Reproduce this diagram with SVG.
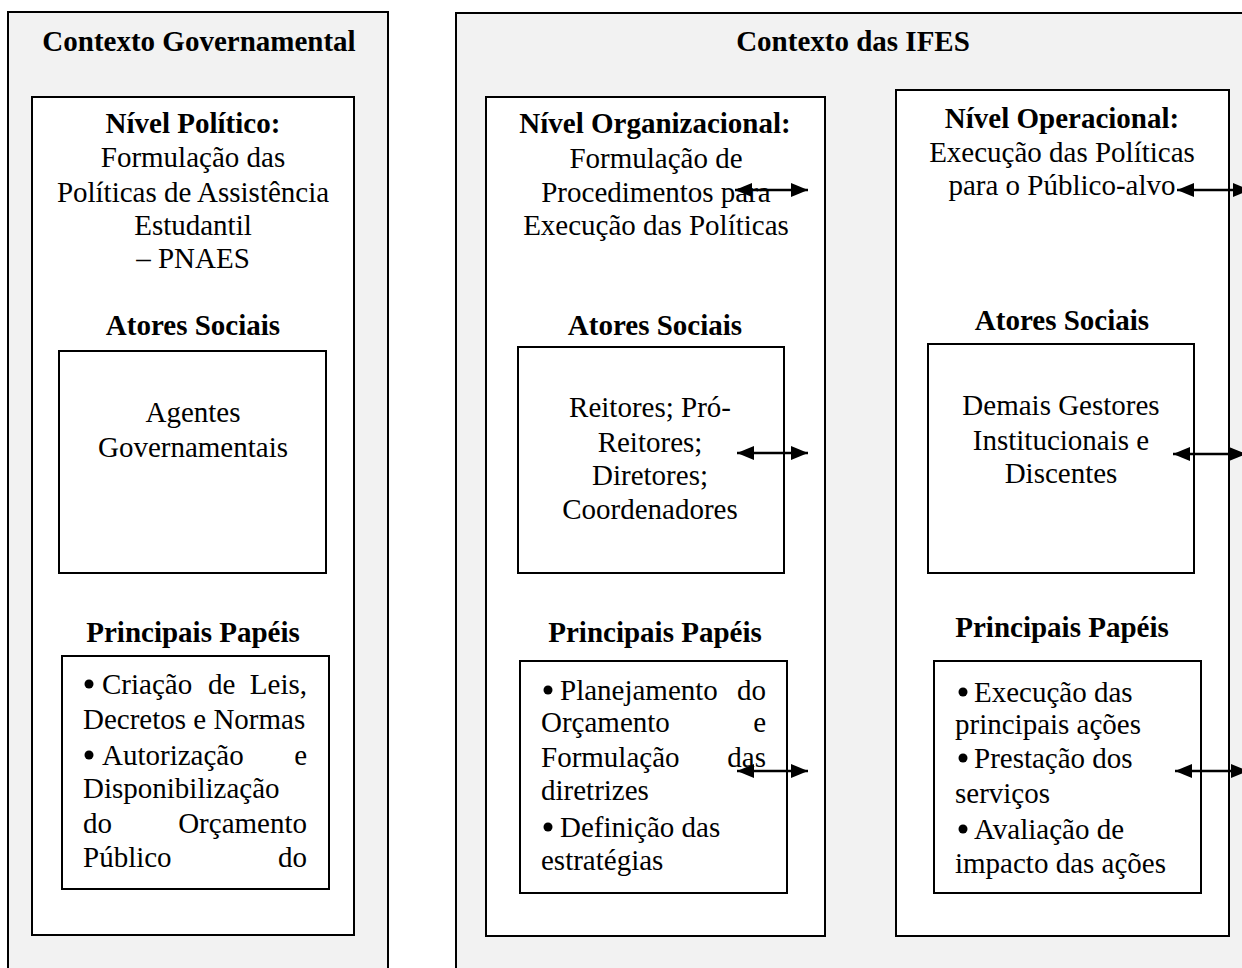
<svg xmlns="http://www.w3.org/2000/svg" width="1242" height="968" viewBox="0 0 1242 968">
<defs>
<style>
text{font-family:"Liberation Serif","Times New Roman",serif;font-size:29px;fill:#000}
.b{font-weight:bold}
.c{text-anchor:middle}
.e{text-anchor:end}
.dot{fill:#000}
.ctx{fill:#f2f2f2;stroke:#000;stroke-width:2}
.box{fill:#fff;stroke:#000;stroke-width:2}
.arr{stroke:#000;stroke-width:2.5;fill:none;marker-start:url(#hs);marker-end:url(#he)}
</style>
<marker id="he" markerUnits="userSpaceOnUse" markerWidth="18" markerHeight="16" refX="17" refY="8" orient="auto"><path d="M0,1 L17,8 L0,15 Z" fill="#000"/></marker>
<marker id="hs" markerUnits="userSpaceOnUse" markerWidth="18" markerHeight="16" refX="0" refY="8" orient="auto"><path d="M17,1 L0,8 L17,15 Z" fill="#000"/></marker>
</defs>
<rect width="1242" height="968" fill="#fff"/>

<g id="contexto-governamental">
<rect class="ctx" x="8" y="12" width="380" height="970"/>
<text class="b c" x="199" y="51">Contexto Governamental</text>
</g>

<g id="nivel-politico">
<rect class="box" x="32" y="97" width="322" height="838"/>
<text class="b c" x="193" y="133">Nível Político:</text>
<text class="c" x="193" y="167">Formulação das</text>
<text class="c" x="193" y="202">Políticas de Assistência</text>
<text class="c" x="193" y="235">Estudantil</text>
<text class="c" x="193" y="268">– PNAES</text>
<text class="b c" x="193" y="335">Atores Sociais</text>
<text class="b c" x="193" y="642">Principais Papéis</text>
</g>

<g id="atores-governamentais">
<rect class="box" x="59" y="351" width="267" height="222"/>
<text class="c" x="193" y="422">Agentes</text>
<text class="c" x="193" y="457">Governamentais</text>
</g>

<g id="papeis-governamentais">
<rect class="box" x="62" y="656" width="267" height="233"/>
<circle class="dot" cx="89" cy="684" r="4.5"/><text x="102" y="694">Criação</text><text x="208" y="694">de</text><text class="e" x="307" y="694">Leis,</text>
<text x="83" y="729">Decretos e Normas</text>
<circle class="dot" cx="89" cy="755" r="4.5"/><text x="102" y="765">Autorização</text><text class="e" x="307" y="765">e</text>
<text x="83" y="798">Disponibilização</text>
<text x="83" y="833">do</text><text class="e" x="307" y="833">Orçamento</text>
<text x="83" y="867">Público</text><text class="e" x="307" y="867">do</text>
</g>

<g id="contexto-ifes">
<rect class="ctx" x="456" y="13" width="820" height="970"/>
<text class="b c" x="853" y="51">Contexto das IFES</text>
</g>

<g id="nivel-organizacional">
<rect class="box" x="486" y="97" width="339" height="839"/>
<text class="b c" x="655" y="133">Nível Organizacional:</text>
<text class="c" x="656" y="168">Formulação de</text>
<text class="c" x="656" y="202">Procedimentos para</text>
<text class="c" x="656" y="235">Execução das Políticas</text>
<text class="b c" x="655" y="335">Atores Sociais</text>
<text class="b c" x="655" y="642">Principais Papéis</text>
</g>

<g id="atores-organizacionais">
<rect class="box" x="518" y="347" width="266" height="226"/>
<text class="c" x="650" y="417">Reitores; Pró-</text>
<text class="c" x="650" y="452">Reitores;</text>
<text class="c" x="650" y="485">Diretores;</text>
<text class="c" x="650" y="519">Coordenadores</text>
</g>

<g id="papeis-organizacionais">
<rect class="box" x="520" y="661" width="267" height="232"/>
<circle class="dot" cx="548" cy="690" r="4.5"/><text x="560" y="700">Planejamento</text><text class="e" x="766" y="700">do</text>
<text x="541" y="732">Orçamento</text><text class="e" x="766" y="732">e</text>
<text x="541" y="767">Formulação</text><text class="e" x="766" y="767">das</text>
<text x="541" y="800">diretrizes</text>
<circle class="dot" cx="548" cy="827" r="4.5"/><text x="560" y="837">Definição das</text>
<text x="541" y="870">estratégias</text>
</g>

<g id="nivel-operacional">
<rect class="box" x="896" y="90" width="333" height="846"/>
<text class="b c" x="1062" y="128">Nível Operacional:</text>
<text class="c" x="1062" y="162">Execução das Políticas</text>
<text class="c" x="1062" y="195">para o Público-alvo</text>
<text class="b c" x="1062" y="330">Atores Sociais</text>
<text class="b c" x="1062" y="637">Principais Papéis</text>
</g>

<g id="atores-operacionais">
<rect class="box" x="928" y="344" width="266" height="229"/>
<text class="c" x="1061" y="415">Demais Gestores</text>
<text class="c" x="1061" y="450">Institucionais e</text>
<text class="c" x="1061" y="483">Discentes</text>
</g>

<g id="papeis-operacionais">
<rect class="box" x="934" y="661" width="267" height="232"/>
<circle class="dot" cx="963" cy="692" r="4.5"/><text x="974" y="702">Execução das</text>
<text x="955" y="734">principais ações</text>
<circle class="dot" cx="963" cy="758" r="4.5"/><text x="974" y="768">Prestação dos</text>
<text x="955" y="803">serviços</text>
<circle class="dot" cx="963" cy="829" r="4.5"/><text x="974" y="839">Avaliação de</text>
<text x="955" y="873">impacto das ações</text>
</g>

<g id="connectors">
<line class="arr" x1="735" y1="190" x2="808" y2="190"/>
<line class="arr" x1="737" y1="453" x2="808" y2="453"/>
<line class="arr" x1="737" y1="771" x2="808" y2="771"/>
<line class="arr" x1="1177" y1="190" x2="1250" y2="190"/>
<line class="arr" x1="1173" y1="454" x2="1246" y2="454"/>
<line class="arr" x1="1175" y1="771" x2="1248" y2="771"/>
</g>
</svg>
